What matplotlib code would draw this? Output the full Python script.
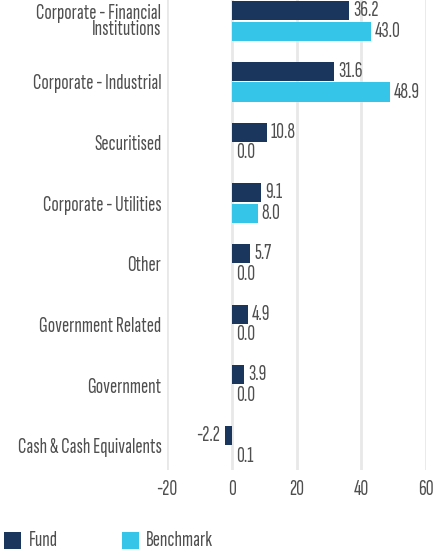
import matplotlib
matplotlib.use("Agg")
import matplotlib.pyplot as plt
from matplotlib.patches import Rectangle
import numpy as np

categories = ["Corporate - Financial\nInstitutions", "Corporate - Industrial", "Securitised",
              "Corporate - Utilities", "Other", "Government Related", "Government",
              "Cash & Cash Equivalents"]
fund = [36.2, 31.6, 10.8, 9.1, 5.7, 4.9, 3.9, -2.2]
benchmark = [43.0, 48.9, 0.0, 8.0, 0.0, 0.0, 0.0, 0.1]
xticks = [-20, 0, 20, 40, 60]

plt.rcParams["font.family"] = ["Sofia Sans Extra Condensed", "DejaVu Sans"]
plt.rcParams["font.weight"] = "light"
plt.rcParams["axes.unicode_minus"] = False

FUND_C = "#1b365d"
BENCH_C = "#35c5e8"
TXT = "#4f4f4f"
FS = 15.5

fig = plt.figure(figsize=(4.46, 5.54), dpi=100)
ax = fig.add_axes([167/446, 1 - 470/554, 259/446, 470/554])

y = np.arange(len(categories))
h = 0.315
off = 0.17
ax.barh(y - off, fund, height=h, color=FUND_C, zorder=3)
ax.barh(y + off, benchmark, height=h, color=BENCH_C, zorder=3)

for yi, v in zip(y - off, fund):
    ax.annotate(f"{v:.1f}", (v, yi), xytext=(3 if v >= 0 else -3, 0), textcoords="offset points",
                ha="left" if v >= 0 else "right", va="center", fontsize=FS, color=TXT)
for yi, v in zip(y + off, benchmark):
    ax.annotate(f"{v:.1f}", (v, yi), xytext=(3, 0), textcoords="offset points",
                ha="left", va="center", fontsize=FS, color=TXT)

ax.set_xlim(-20, 60)
ax.set_ylim(7.397, -0.346)
ax.set_xticks(xticks)
ax.set_xticklabels([str(t) for t in xticks], fontsize=FS, color=TXT)
ax.set_yticks(y)
ax.set_yticklabels(categories, fontsize=FS, color=TXT, linespacing=0.82)
ax.tick_params(axis="x", length=0, pad=7)
ax.tick_params(axis="y", length=0, pad=4)
ax.grid(axis="x", color="#e8e8e8", linewidth=2, zorder=0)
ax.grid(axis="y", visible=False)
for s in ax.spines.values():
    s.set_visible(False)

fig.add_artist(Rectangle((4/446, 1 - 549/554), 17/446, 17/554, transform=fig.transFigure,
                         color=FUND_C, lw=0))
fig.text(29/446, 1 - 541/554, "Fund", fontsize=FS, color=TXT, va="center")
fig.add_artist(Rectangle((122/446, 1 - 549/554), 17/446, 17/554, transform=fig.transFigure,
                         color=BENCH_C, lw=0))
fig.text(146/446, 1 - 541/554, "Benchmark", fontsize=FS, color=TXT, va="center")

fig.savefig("out.png", dpi=100)
